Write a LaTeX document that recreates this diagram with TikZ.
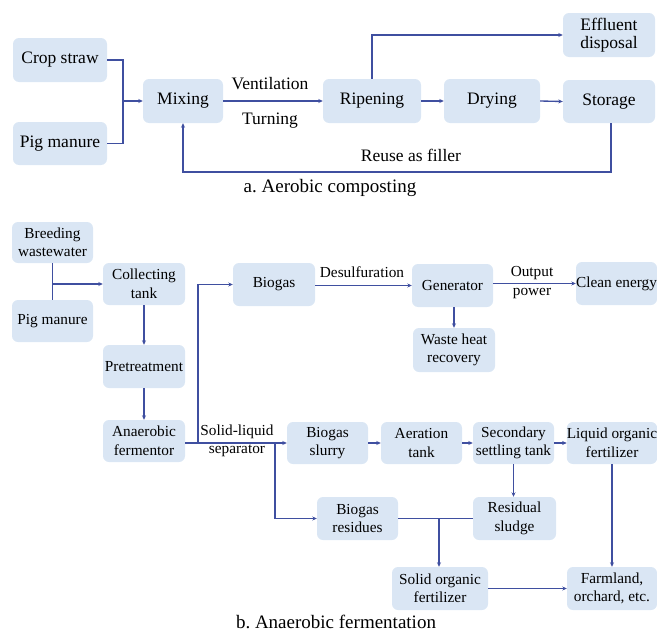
\documentclass[tikz,border=0pt]{standalone}
\usepackage{fontspec}
\setmainfont{Liberation Serif}
\frenchspacing
\usetikzlibrary{arrows.meta}
\definecolor{boxfill}{HTML}{DAE6F4}
\definecolor{linec}{HTML}{3F4FA0}
\begin{document}
\begin{tikzpicture}[x=1pt,y=-1pt,
  box/.style={rounded corners=6pt,fill=boxfill,draw=none,align=center,inner sep=0pt},
  topf/.style={font=\fontsize{17.5}{18.5}\selectfont},
  botf/.style={font=\fontsize{15.3}{18.5}\selectfont},
  capf/.style={font=\fontsize{19}{22}\selectfont},
  conn/.style={draw=linec,line width=1.35pt},
  arr/.style={conn,-{Stealth[length=4.5pt,width=4pt]}},
  lbl/.style={inner sep=0pt,align=center}]
\useasboundingbox (0,0) rectangle (657,640);
% ---------- a. Aerobic composting ----------
\begin{scope}[every node/.append style={topf}]
\node[box,minimum width=94pt,minimum height=44pt] (cs) at (60,60) {Crop straw};
\node[box,minimum width=94pt,minimum height=43pt] (pm) at (60,143.5) {Pig manure};
\node[box,minimum width=80pt,minimum height=44pt] (mix) at (183,101) {Mixing};
\node[box,minimum width=98pt,minimum height=44pt] (rip) at (372,101) {Ripening};
\node[box,minimum width=96pt,minimum height=44pt] (dry) at (492,101) {Drying};
\node[box,minimum width=92pt,minimum height=43pt] (sto) at (609,101.5) {Storage};
\node[box,minimum width=92pt,minimum height=44pt] (eff) at (609,35) {Effluent\\disposal};
\node[lbl] (lvent) at (270,84) {Ventilation};
\node[lbl] (lturn) at (270,121) {Turning};
\node[lbl] (lreuse) at (411,155) {Reuse as filler};
\end{scope}
\coordinate (j1) at (123,101);
\draw[conn] (cs.east) -| (j1);
\draw[conn] (pm.east) -| (j1);
\draw[arr] (j1) -- (mix.west);
\draw[arr] (mix.east) -- (rip.west);
\draw[arr] (rip.east) -- (dry.west);
\draw[arr] (dry.east) -- (sto.west);
\draw[arr] (rip.north) |- (eff.west);
\coordinate (rb) at (611,172);
\draw[arr] (sto.south -| rb) -- (rb) -| (mix.south);
\node[lbl,capf] (capa) at (330,188) {a. Aerobic composting};
% ---------- b. Anaerobic fermentation ----------
\begin{scope}[every node/.append style={botf}]
\node[box,minimum width=81pt,minimum height=41pt] (bw) at (52.5,242.5) {Breeding\\wastewater};
\node[box,minimum width=81pt,minimum height=42pt] (pm2) at (52.5,321) {Pig manure};
\node[box,minimum width=82pt,minimum height=42pt] (ct) at (144,284) {Collecting\\tank};
\node[box,minimum width=82pt,minimum height=43pt] (pre) at (144,366.5) {Pretreatment};
\node[box,minimum width=82pt,minimum height=42pt] (af) at (144,441) {Anaerobic\\fermentor};
\node[box,minimum width=82pt,minimum height=43pt] (bg) at (274,284.5) {Biogas};
\node[box,minimum width=81pt,minimum height=43pt] (gen) at (452.5,285.5) {Generator};
\node[box,minimum width=82pt,minimum height=44pt] (whr) at (454,350) {Waste heat\\recovery};
\node[box,minimum width=81pt,minimum height=43pt] (ce) at (616.5,283.5) {Clean energy};
\node[box,minimum width=81pt,minimum height=42pt] (bs) at (327.5,443) {Biogas\\slurry};
\node[box,minimum width=81pt,minimum height=42pt] (at) at (421.5,443) {Aeration\\tank};
\node[box,minimum width=81pt,minimum height=42pt] (sst) at (513.5,443) {Secondary\\settling tank};
\node[box,minimum width=90pt,minimum height=42pt] (lof) at (612,443) {Liquid organic\\fertilizer};
\node[box,minimum width=81pt,minimum height=43pt] (br) at (357.5,518.5) {Biogas\\residues};
\node[box,minimum width=83pt,minimum height=43pt] (rs) at (514.5,518.5) {Residual\\sludge};
\node[box,minimum width=96pt,minimum height=43pt] (sof) at (440,588.5) {Solid organic\\fertilizer};
\node[box,minimum width=90pt,minimum height=43pt] (fo) at (612,588.5) {Farmland,\\orchard, etc.};
\node[lbl] (ldes) at (362,272) {Desulfuration};
\node[lbl] (lout) at (532,273) {Output};
\node[lbl] (lpow) at (532,294) {power};
\node[lbl] (lsl) at (237,432) {Solid-liquid};
\node[lbl] (lsep) at (237,451) {separator};
\end{scope}
\coordinate (j2) at (52.5,284);
\draw[conn] (bw.south) -- (pm2.north);
\draw[arr] (j2) -- (ct.west);
\draw[arr] (ct.south) -- (pre.north);
\draw[arr] (pre.south) -- (af.north);
\coordinate (j3) at (198,443);
\coordinate (j4) at (275,443);
\draw[arr] (af.east |- j3) -- (bs.west);
\draw[arr] (j3) |- (bg.west);
\draw[arr] (j4) |- (br.west);
\draw[arr] (bg.east |- gen.west) -- (gen.west);
\draw[arr] (gen.east |- ce.west) -- (ce.west);
\draw[arr] (gen.south -| whr) -- (whr.north);
\draw[arr] (bs.east) -- (at.west);
\draw[arr] (at.east) -- (sst.west);
\draw[arr] (sst.east) -- (lof.west);
\draw[arr] (sst.south) -- (sst.south |- rs.north);
\draw[arr] (lof.south) -- (fo.north);
\draw[conn] (br.east) -- (rs.west);
\coordinate (j5) at (439,518.5);
\draw[arr] (j5) -- (j5 |- sof.north);
\draw[arr] (sof.east) -- (fo.west);
\node[lbl,capf] (capb) at (336,622) {b. Anaerobic fermentation};
\end{tikzpicture}
\end{document}
